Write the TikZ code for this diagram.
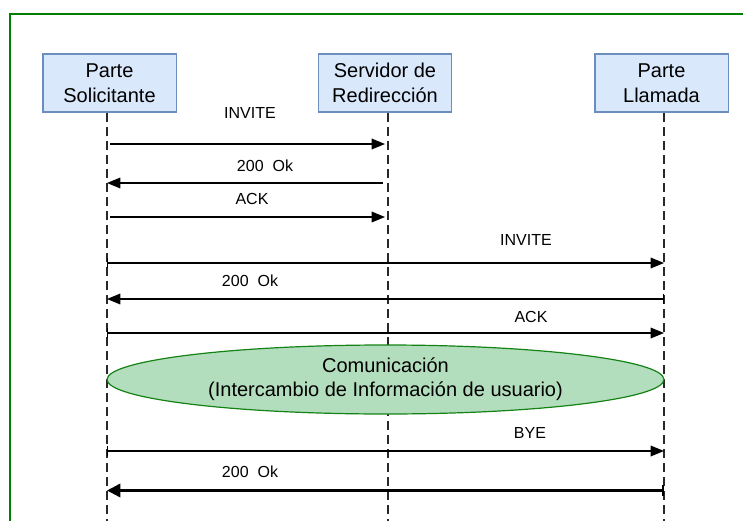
\documentclass[tikz,border=0pt]{standalone}
\usepackage{fontspec}
\setmainfont{Liberation Sans}
\usetikzlibrary{arrows.meta,shapes.geometric}
\definecolor{framegreen}{RGB}{0,128,0}
\definecolor{boxfill}{RGB}{218,232,252}
\definecolor{boxline}{RGB}{108,142,191}
\definecolor{ellfill}{RGB}{179,222,189}
\definecolor{ellline}{RGB}{20,130,20}
\definecolor{lifegray}{RGB}{40,40,40}
\begin{document}
\begin{tikzpicture}[x=0.75pt,y=-0.75pt,
  actor/.style={draw=boxline, fill=boxfill, line width=1pt, minimum width=100pt, minimum height=43.5pt, inner sep=0pt, align=center, font=\fontsize{15}{18.75}\selectfont},
  lifeline/.style={draw=lifegray, line width=1pt, dash pattern=on 6.75pt off 3.75pt},
  msg/.style={line width=0.9pt, -{Triangle[length=10pt,width=8pt]}},
  longmsg/.style={line width=0.9pt, {Bar[width=8pt]}-{Triangle[length=10pt,width=8pt]}},
  lastmsg/.style={line width=1.8pt, {Bar[width=8pt]}-{Triangle[length=10pt,width=10pt]}},
  lbl/.style={inner sep=0pt, font=\fontsize{12}{14}\selectfont},
  comm/.style={ellipse, draw=ellline, fill=ellfill, line width=0.9pt, minimum width=417.75pt, minimum height=51.75pt, inner sep=0pt, align=center, font=\fontsize{15}{18}\selectfont},
]
\useasboundingbox (0,0) rectangle (743,521);
% frame
\draw[framegreen, line width=1.5pt] (10,521) -- (10,13.5) -- (743,13.5);
% actors
\node[actor] (A) at (109.5,83) {Parte\\Solicitante};
\node[actor] (B) at (385,83) {Servidor de\\Redirección};
\node[actor] (C) at (661.5,83) {Parte\\Llamada};
% lifelines
\coordinate (L1t) at (107,113); \coordinate (L1b) at (107,521);
\coordinate (L2t) at (388,113); \coordinate (L2b) at (388,521);
\coordinate (L3t) at (664,113); \coordinate (L3b) at (664,521);
\draw[lifeline] (L1t) -- (L1b);
\draw[lifeline] (L2t) -- (L2b);
\draw[lifeline] (L3t) -- (L3b);
% messages
\coordinate (m1s) at (110,144); \coordinate (m1e) at (385,144);
\draw[msg] (m1s) -- (m1e);
\node[lbl] (t1) at (250,112.5) {INVITE};
\coordinate (m2s) at (383,183); \coordinate (m2e) at (107,183);
\draw[msg] (m2s) -- (m2e);
\node[lbl] (t2) at (265,165.5) {200~~Ok};
\coordinate (m3s) at (110,217); \coordinate (m3e) at (385,217);
\draw[msg] (m3s) -- (m3e);
\node[lbl] (t3) at (252,198.5) {ACK};
\coordinate (m4s) at (107,263); \coordinate (m4e) at (664,263);
\draw[longmsg] (m4s) -- (m4e);
\node[lbl] (t4) at (526,239.5) {INVITE};
\coordinate (m5s) at (664,299); \coordinate (m5e) at (107,299);
\draw[longmsg] (m5s) -- (m5e);
\node[lbl] (t5) at (250,281) {200~~Ok};
\coordinate (m6s) at (107,333); \coordinate (m6e) at (664,333);
\draw[longmsg] (m6s) -- (m6e);
\node[lbl] (t6) at (531,317) {ACK};
% communication
\node[comm] (E) at (385.5,379.5) {Comunicación\\(Intercambio de Información de usuario)};
\coordinate (m8s) at (107,451); \coordinate (m8e) at (664,451);
\draw[longmsg] (m8s) -- (m8e);
\node[lbl] (t8) at (530,433) {BYE};
\coordinate (m9s) at (664,490.5); \coordinate (m9e) at (107,490.5);
\draw[lastmsg] (m9s) -- (m9e);
\node[lbl] (t9) at (250,472) {200~~Ok};
\end{tikzpicture}
\end{document}
